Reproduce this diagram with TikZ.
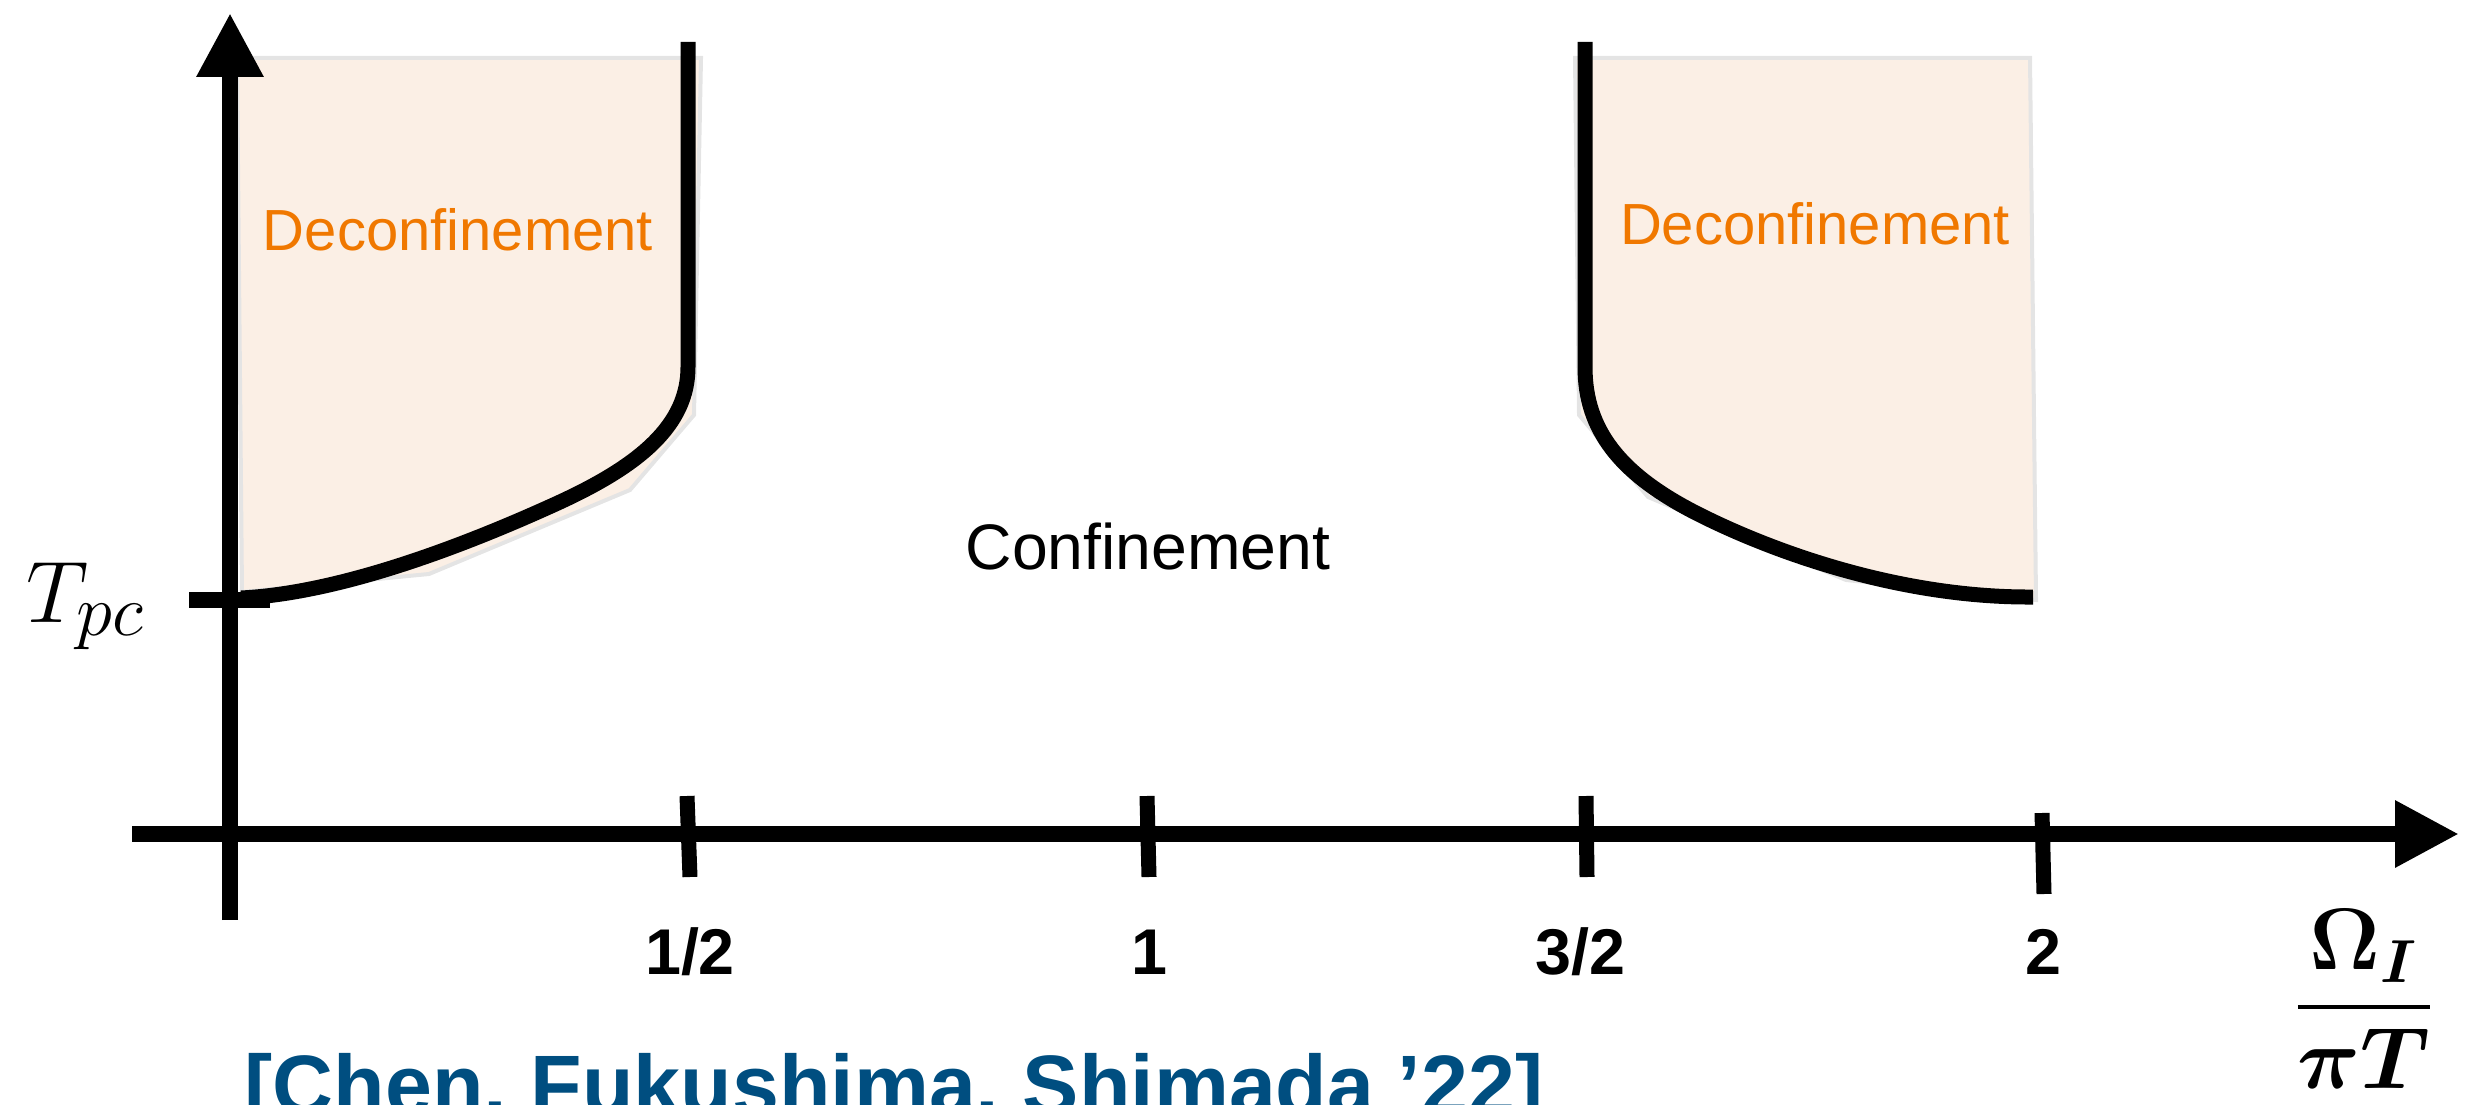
\documentclass[tikz,border=0pt]{standalone}
\usepackage{amsmath,amssymb,bm}
\usepackage[no-math]{fontspec}
\setmainfont{Liberation Sans}[Ligatures=NoCommon]
\usetikzlibrary{arrows.meta}

\definecolor{deconffill}{RGB}{251,239,229}
\definecolor{deconfedge}{RGB}{228,228,228}
\definecolor{deconftext}{RGB}{240,120,0}
\definecolor{citeblue}{RGB}{0,78,128}

\begin{document}
\begin{tikzpicture}[x=0.1mm,y=-0.1mm,
	axisline/.style={line width=1.55mm,-{Triangle[length=6.4mm,width=6.3mm]}},
	tickmark/.style={line width=1.5mm},
	phaseline/.style={line width=1.5mm},
	deconfregion/.style={fill=deconffill,draw=deconfedge,line width=0.4mm},
	phaselabel/.style={inner sep=0pt,anchor=base,font=\fontsize{16.5}{18}\selectfont},
	ticklabel/.style={inner sep=0pt,anchor=base,font=\fontsize{18.4}{20}\selectfont\bfseries}]
	
	\useasboundingbox (0,0) rectangle (2469,1105);
	
	% deconfined regions
	\path[deconfregion] (237,58) -- (701,58) -- (694,415) -- (630,490) -- (429,574) -- (242,592) -- cycle;
	\path[deconfregion] (1575,58) -- (2030,58) -- (2036,600) -- (1846,580) -- (1648,497) -- (1579,415) -- cycle;
	
	% axes
	\draw[axisline] (132,834) -- (2459,834);
	\draw[axisline] (230,920) -- (230,13);
	
	\draw[tickmark] (687,796) -- (690,877);
	\draw[tickmark] (1147,796) -- (1149,877);
	\draw[tickmark] (1586,796) -- (1587,877);
	\draw[tickmark] (2042,813) -- (2044,894);
	\draw[line width=1.6mm] (189,600) -- (270,600);
	
	% phase boundaries
	\draw[phaseline] (688,42) -- (688,367) .. controls (688,425) and (640,465) .. (560,502) .. controls (475,541) and (345,593) .. (241,598);
	\draw[phaseline] (1585,42) -- (1585,367) .. controls (1585,430) and (1620,475) .. (1700,515) .. controls (1780,555) and (1905,598) .. (2033,597);
	
	\node[phaselabel,text=deconftext] (deconfL) at (458,251) {Deconfinement};
	\node[phaselabel,text=deconftext] (deconfR) at (1815,245) {Deconfinement};
	\node[phaselabel,font=\fontsize{18.3}{20}\selectfont] (conf) at (1148,569) {Confinement};
	
	\node[ticklabel] (half) at (690,974) {1/2};
	\node[ticklabel] (one) at (1149,974) {1};
	\node[ticklabel] (threehalf) at (1580,974) {3/2};
	\node[ticklabel] (two) at (2043,974) {2};
	
	\node[inner sep=0pt,anchor=base west,font=\fontsize{31.5}{34}\selectfont] (tpc) at (26,622) {$T_{pc}$};
	\node[inner sep=0pt,anchor=base,font=\fontsize{27}{30}\selectfont] (ratio) at (2364,1029) {$\displaystyle\frac{\bm{\Omega}_{\bm{I}}}{\bm{\pi T}}$};
	
	\node[inner sep=0pt,anchor=base,font=\fontsize{24}{26}\selectfont\bfseries,text=citeblue] (cite) at (894,1114) {[Chen, Fukushima, Shimada ’22]};
	
\end{tikzpicture}
\end{document}
